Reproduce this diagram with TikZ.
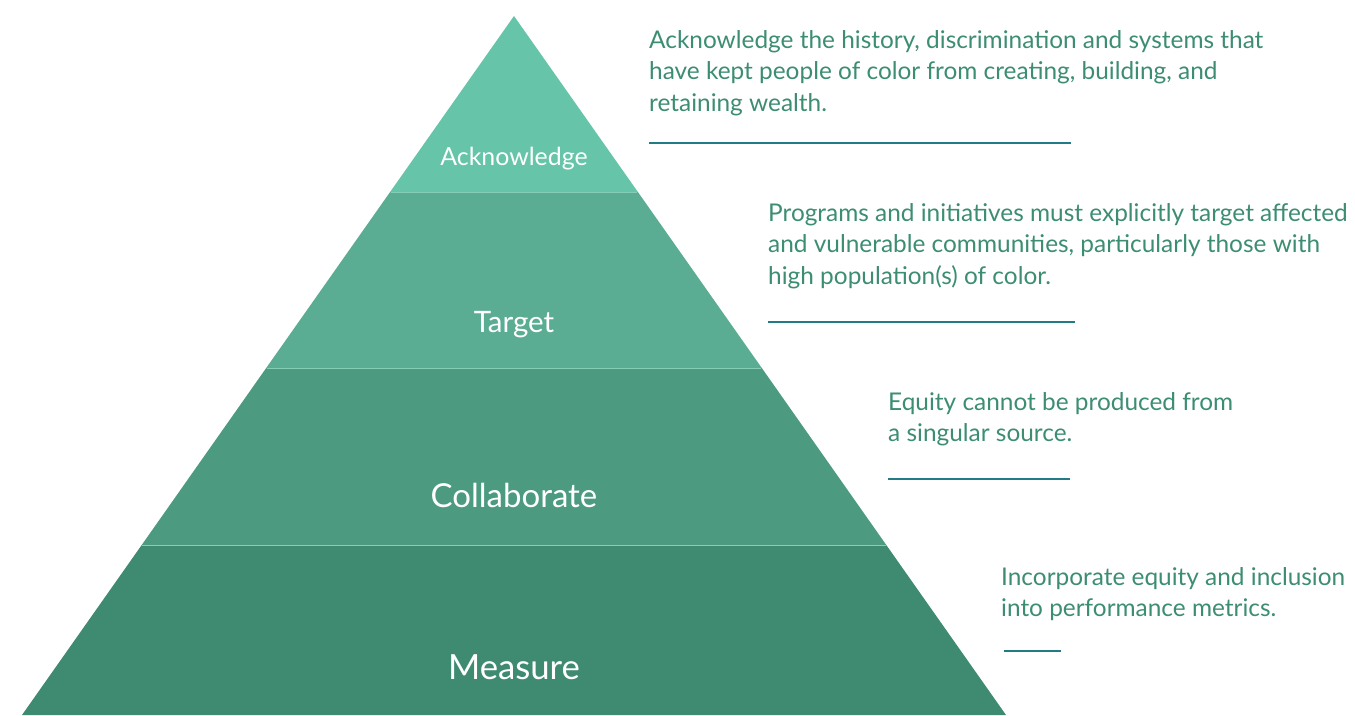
\documentclass[tikz,border=0pt]{standalone}
\usepackage{fontspec}
\setmainfont{Lato}
\definecolor{lay1}{HTML}{66C4A9}
\definecolor{lay2}{HTML}{5AAD92}
\definecolor{lay3}{HTML}{4C9B81}
\definecolor{lay4}{HTML}{3E8B72}
\definecolor{sepc}{HTML}{86CDB8}
\definecolor{txtc}{HTML}{3C8D72}
\definecolor{rulec}{HTML}{237B86}
\tikzset{
  lbl/.style={text=white, inner sep=0pt, anchor=base},
  desc/.style={text=txtc, inner sep=0pt, anchor=base west, align=left, font=\fontsize{24.4}{31.6}\selectfont},
  rul/.style={draw=rulec, line width=2.7pt},
  sep/.style={draw=sepc, line width=1pt}
}
\begin{document}
\begin{tikzpicture}[x=1pt,y=-1pt]
\useasboundingbox (0,0) rectangle (1355,715);
% layers
\fill[lay1] (514,16) -- (637.9,192) -- (390.1,192) -- cycle;
\fill[lay2] (390.1,192) -- (637.9,192) -- (761.8,368) -- (266.2,368) -- cycle;
\fill[lay3] (266.2,368) -- (761.8,368) -- (886.3,545) -- (141.7,545) -- cycle;
\fill[lay4] (141.7,545) -- (886.3,545) -- (1006,715) -- (22,715) -- cycle;
\draw[sep] (390.6,192) -- (637.4,192);
\draw[sep] (266.7,368) -- (761.3,368);
\draw[sep] (142.2,545) -- (885.8,545);
% labels
\node[lbl, font=\fontsize{24.9}{30}\selectfont] (l1) at (514,165) {Acknowledge};
\node[lbl, font=\fontsize{29.5}{34}\selectfont] (l2) at (514,332) {Target};
\node[lbl, font=\fontsize{33}{38}\selectfont] (l3) at (514,507) {Collaborate};
\node[lbl, font=\fontsize{34.7}{40}\selectfont] (l4) at (514,679) {Measure};
% descriptions (anchored at the baseline of their last line)
\node[desc] (d1) at (649,111.2) {Acknowledge the history, discrimination and systems that\\have kept people of color from creating, building, and\\retaining wealth.};
\coordinate (r1a) at (649,143); \coordinate (r1b) at (1071,143);
\draw[rul] (r1a) -- (r1b);
\node[desc] (d2) at (768,284.2) {Programs and initiatives must explicitly target affected\\and vulnerable communities, particularly those with\\high population(s) of color.};
\coordinate (r2a) at (768,322); \coordinate (r2b) at (1075,322);
\draw[rul] (r2a) -- (r2b);
\node[desc] (d3) at (888,441.6) {Equity cannot be produced from\\a singular source.};
\coordinate (r3a) at (888,479); \coordinate (r3b) at (1070,479);
\draw[rul] (r3a) -- (r3b);
\node[desc] (d4) at (1001,616.6) {Incorporate equity and inclusion\\into performance metrics.};
\coordinate (r4a) at (1004,651); \coordinate (r4b) at (1061,651);
\draw[rul] (r4a) -- (r4b);
\end{tikzpicture}
\end{document}
